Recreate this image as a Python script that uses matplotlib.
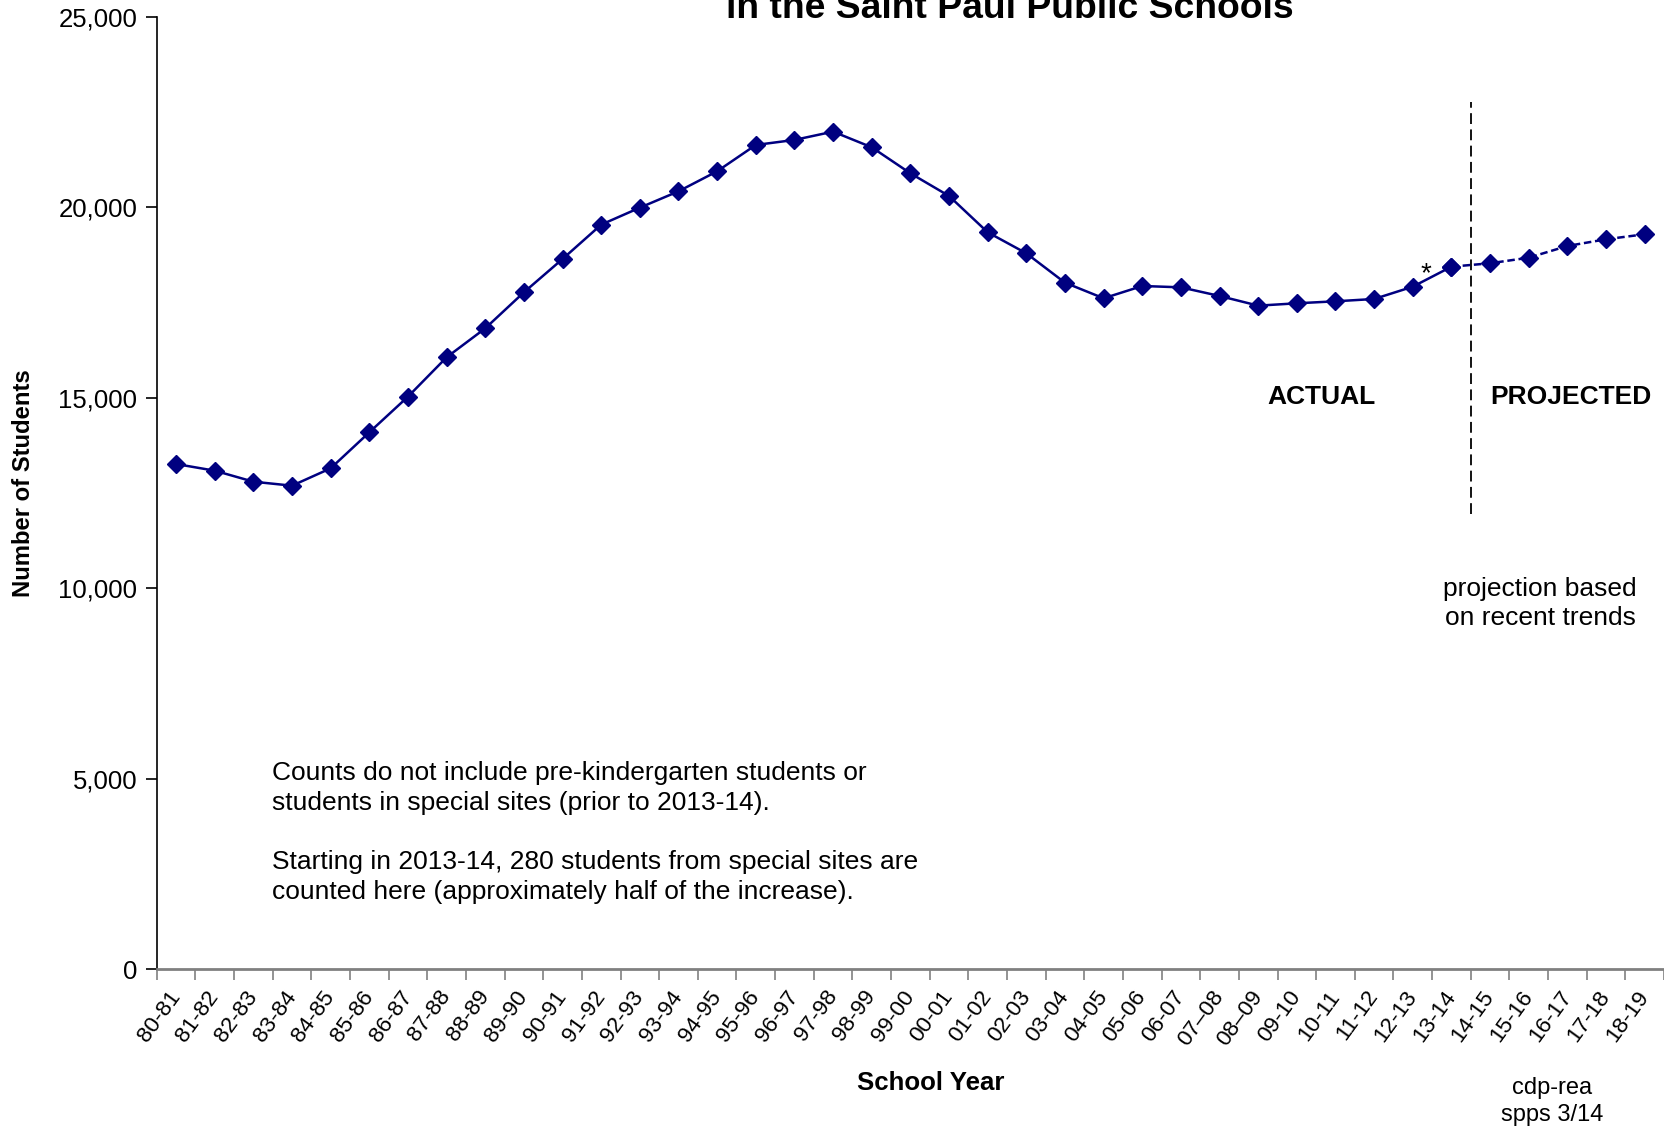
import matplotlib
matplotlib.use("Agg")
import matplotlib.pyplot as plt
from matplotlib.ticker import FuncFormatter
from matplotlib.transforms import ScaledTranslation
import numpy as np

plt.rcParams['font.family'] = ['Liberation Sans', 'DejaVu Sans']

# school years, 1980-81 through 2018-19
years = ["80-81", "81-82", "82-83", "83-84", "84-85", "85-86", "86-87", "87-88",
         "88-89", "89-90", "90-91", "91-92", "92-93", "93-94", "94-95", "95-96",
         "96-97", "97-98", "98-99", "99-00", "00-01", "01-02", "02-03", "03-04",
         "04-05", "05-06", "06-07", "07\u201308", "08\u201309", "09-10", "10-11",
         "11-12", "12-13", "13-14", "14-15", "15-16", "16-17", "17-18", "18-19"]

# actual enrollment 80-81 .. 13-14
actual = [13257, 13082, 12793, 12688, 13144, 14089, 15025, 16058, 16819, 17764,
          18639, 19540, 19986, 20415, 20941, 21632, 21764, 21982, 21571, 20888,
          20293, 19340, 18788, 18017, 17607, 17930, 17895, 17668, 17414, 17476,
          17528, 17589, 17912, 18437]

# projection 13-14 .. 18-19 (starts at last actual point)
projected = [18437, 18526, 18673, 18980, 19156, 19288]

navy = "#000080"

fig = plt.figure(figsize=(16.64, 11.33), dpi=100)
ax = fig.add_axes([0.0942, 0.1447, 0.9058, 0.8406])

x_act = np.arange(len(actual))
x_proj = np.arange(len(actual) - 1, len(actual) - 1 + len(projected))

ax.plot(x_act, actual, color=navy, lw=1.8, marker="D", ms=9, zorder=3)
ax.plot(x_proj, projected, color=navy, lw=1.8, ls=(0, (3, 1.5)), marker="D",
        ms=9, zorder=3)

# divider between actual and projected
ax.vlines(len(actual) - 0.5, 11955, 22760, colors="black", linestyles=(0, (6, 3)),
          lw=1.3)

ax.set_xlim(-0.5, len(years) - 0.5)
ax.set_ylim(0, 25000)
ax.set_yticks(range(0, 25001, 5000))
ax.yaxis.set_major_formatter(FuncFormatter(lambda v, p: f"{int(v):,}"))

ax.set_xticks(np.arange(len(years)))
ax.set_xticklabels(years, rotation=54, ha="right", va="center",
                   rotation_mode="anchor", fontsize=16.2)
shift = ScaledTranslation(11 / 100, 0, fig.dpi_scale_trans)
for lab in ax.get_xticklabels():
    lab.set_transform(lab.get_transform() + shift)
ax.set_xticks(np.arange(len(years) + 1) - 0.5, minor=True)
ax.tick_params(axis="x", which="major", length=0, pad=17)
ax.tick_params(axis="x", which="minor", length=8, color="#808080", width=1.2)
ax.tick_params(axis="y", length=8, width=1.2, labelsize=18.5, pad=6)

for s in ["top", "right"]:
    ax.spines[s].set_visible(False)
ax.spines["bottom"].set_color("#808080")
ax.spines["bottom"].set_linewidth(2)
ax.spines["left"].set_linewidth(1.2)

ax.text(29.63, 15019, "ACTUAL", fontsize=19, fontweight="bold",
        ha="center", va="center")
ax.text(36.08, 15019, "PROJECTED", fontsize=19, fontweight="bold",
        ha="center", va="center")
ax.text(35.29, 9587, "projection based\non recent trends", fontsize=19,
        ha="center", va="center", linespacing=1.28)
ax.text(32.35, 18250, "*", fontsize=20, ha="center", va="center")
ax.text(2.47, 3583, "Counts do not include pre-kindergarten students or\n"
        "students in special sites (prior to 2013-14).\n\n"
        "Starting in 2013-14, 280 students from special sites are\n"
        "counted here (approximately half of the increase).",
        fontsize=19, ha="left", va="center", linespacing=1.31)

fig.text(0.5593, 0.0437, "School Year", fontsize=18.6, fontweight="bold",
         ha="center", va="center")
fig.text(0.014, 0.574, "Number of Students", fontsize=17.2, fontweight="bold",
         ha="center", va="center", rotation=90)
fig.text(0.933, 0.0278, "cdp-rea\nspps 3/14", fontsize=17, ha="center",
         va="center", linespacing=1.25)
fig.text(0.6068, 1 - 18 / 1133, "in the Saint Paul Public Schools", fontsize=26.8,
         fontweight="bold", ha="center", va="baseline")

fig.savefig("out.png", dpi=100)
